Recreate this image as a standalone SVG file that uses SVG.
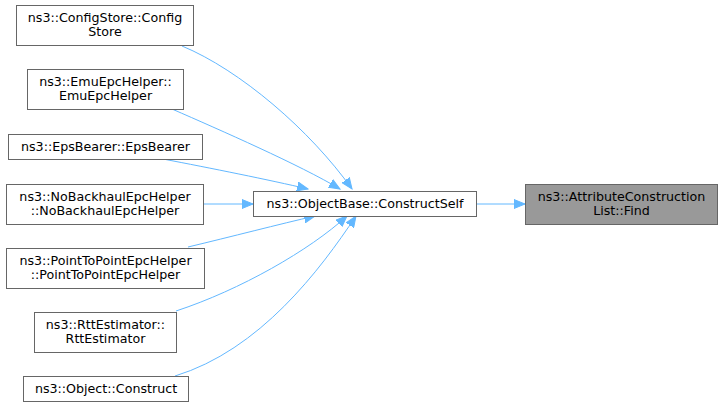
<svg xmlns="http://www.w3.org/2000/svg" width="723" height="407" viewBox="0 0 723 407">
<style>
.n rect{fill:#ffffff;stroke:#666666;stroke-width:1}
.n.hl rect{fill:#999999}
.n text{font-family:"DejaVu Sans","Liberation Sans",sans-serif;font-size:12.67px;fill:#000000;text-anchor:middle}
.e path{fill:none;stroke:#63b8ff;stroke-width:1}
</style>
<defs>
<marker id="ah" markerUnits="userSpaceOnUse" markerWidth="12" markerHeight="10" viewBox="0 0 12 10" refX="11" refY="5" orient="auto">
<path d="M0,0.5 L11,5 L0,9.5 Z" fill="#63b8ff" stroke="#63b8ff" stroke-width="1"/>
</marker>
</defs>
<rect width="723" height="407" fill="#ffffff"/>
<g id="edges" class="e">
<path d="M182,46 C240,70 310,130 352,189" marker-end="url(#ah)"/>
<path d="M172,109 C220,130 300,165 340,189" marker-end="url(#ah)"/>
<path d="M163,159 C210,168 270,180 308,189" marker-end="url(#ah)"/>
<path d="M204,204 L253,204" marker-end="url(#ah)"/>
<path d="M188,247 C230,237 280,224 315,216" marker-end="url(#ah)"/>
<path d="M176,311 C240,290 310,250 347,216" marker-end="url(#ah)"/>
<path d="M175,376 C260,350 320,270 356,216" marker-end="url(#ah)"/>
<path d="M477,204 L525,204" marker-end="url(#ah)"/>
</g>
<g id="node-configstore" class="n">
<rect x="16.5" y="5.5" width="177" height="40"/>
<text x="105" y="21.5">ns3::ConfigStore::Config</text>
<text x="105" y="36">Store</text>
</g>
<g id="node-emuepchelper" class="n">
<rect x="27.5" y="69.5" width="156" height="40"/>
<text x="105.5" y="85.5">ns3::EmuEpcHelper::</text>
<text x="105.5" y="100">EmuEpcHelper</text>
</g>
<g id="node-epsbearer" class="n">
<rect x="8.5" y="134.5" width="194" height="25"/>
<text x="105.5" y="150.5">ns3::EpsBearer::EpsBearer</text>
</g>
<g id="node-nobackhaul" class="n">
<rect x="6.5" y="184.5" width="197" height="40"/>
<text x="105" y="200.5">ns3::NoBackhaulEpcHelper</text>
<text x="105" y="215">::NoBackhaulEpcHelper</text>
</g>
<g id="node-pointtopoint" class="n">
<rect x="6.5" y="248.5" width="198" height="40"/>
<text x="105.5" y="264.5">ns3::PointToPointEpcHelper</text>
<text x="105.5" y="279">::PointToPointEpcHelper</text>
</g>
<g id="node-rttestimator" class="n">
<rect x="34.5" y="312.5" width="142" height="40"/>
<text x="105.5" y="328.5">ns3::RttEstimator::</text>
<text x="105.5" y="343">RttEstimator</text>
</g>
<g id="node-objectconstruct" class="n">
<rect x="23.5" y="376.5" width="165" height="25"/>
<text x="106" y="392.5">ns3::Object::Construct</text>
</g>
<g id="node-constructself" class="n">
<rect x="253.5" y="191.5" width="223" height="25"/>
<text x="365" y="207.5">ns3::ObjectBase::ConstructSelf</text>
</g>
<g id="node-find" class="n hl">
<rect x="525.5" y="184.5" width="192" height="40"/>
<text x="621.5" y="200.5">ns3::AttributeConstruction</text>
<text x="621.5" y="215">List::Find</text>
</g>
</svg>
